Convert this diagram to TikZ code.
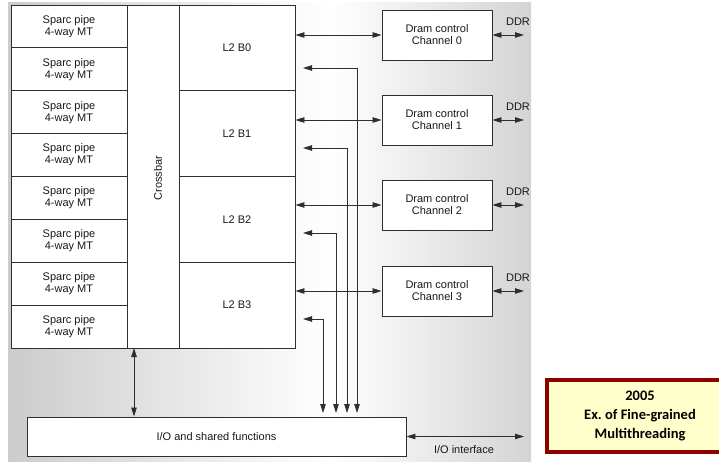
\documentclass[tikz,border=0pt]{standalone}
\usepackage{fontspec}
\setmainfont{Liberation Sans}
\newfontfamily\carl{Carlito}
\usetikzlibrary{arrows.meta,calc,shadows}
\definecolor{bgL}{gray}{0.80}
\definecolor{bgR}{gray}{0.83}
\definecolor{lnc}{gray}{0.18}
\definecolor{notefill}{RGB}{255,255,204}
\definecolor{noteedge}{RGB}{140,0,0}
\begin{document}
\begin{tikzpicture}[x=1pt,y=-1pt,
  blk/.style={draw=lnc, line width=0.9pt, fill=white, inner sep=0pt, align=center,
    font=\fontsize{11}{12}\selectfont, text=black!90},
  dbl/.style={draw=lnc, line width=0.8pt,
    {Triangle[length=9pt,width=5.5pt]}-{Triangle[length=9pt,width=5.5pt]}},
  lbl/.style={font=\fontsize{11}{12}\selectfont, text=black!90, inner sep=0pt}]
\useasboundingbox (0,0) rectangle (719,462);
% background
\shade[left color=bgL, right color=white] (8,3) rectangle (330,461);
\shade[left color=white, right color=bgR] (330,3) rectangle (531,461);
% sparc pipes
\foreach \i in {0,...,7}
  \node[blk, minimum width=116pt, minimum height=42.875pt] (sp\i)
    at (69, {5+42.875*(\i+0.5)}) {Sparc pipe\\4-way MT};
% crossbar
\node[blk, minimum width=52pt, minimum height=343pt] (xbar) at (153,176.5) {};
\node[lbl, rotate=90] (xlab) at (158,178) {Crossbar};
% L2 banks
\foreach \i in {0,...,3}
  \node[blk, minimum width=116pt, minimum height=85.75pt] (l2\i)
    at (237, {5+85.75*(\i+0.5)}) {L2 B\i};
% dram controllers
\foreach \i/\c in {0/35,1/120,2/205,3/291}{
  \node[blk, minimum width=110pt, minimum height=50pt] (dr\i) at (437,\c)
    {Dram control\\Channel \i};
  \draw[dbl] (l2\i.east |- dr\i.west) -- (dr\i.west);
  \coordinate (dd\i) at (524,\c);
  \draw[dbl] (dr\i.east) -- (dd\i);
  \node[lbl] (ddrl\i) at (518,\c-13) {DDR};
}
% I/O
\node[blk, minimum width=379pt, minimum height=39pt] (io) at (216.5,436.5)
  {I/O and shared functions};
\foreach \i/\ry/\vx in {0/68/357,1/148/347,2/233/336,3/319/323}{
  \coordinate (rt\i) at (303,\ry);
  \coordinate (rb\i) at (\vx,413);
  \draw[dbl] (rt\i) -| (rb\i);
}
\coordinate (xb) at (134,348);
\draw[dbl] (xb) -- (xb |- io.north);
\coordinate (iof) at (524,436.5);
\draw[dbl] (io.east) -- (iof);
\node[lbl] (iol) at (464,450) {I/O interface};
% note
\node[draw=noteedge, line width=3.5pt, fill=notefill, minimum width=186pt,
  minimum height=72pt, inner sep=0pt, align=center,
  font=\carl\bfseries\fontsize{14.5}{19}\selectfont,
  drop shadow={shadow xshift=1pt, shadow yshift=-1.5pt, opacity=0.25}]
  (note) at (640,416) {2005\\Ex.\ of Fine-grained\\Multithreading};
\end{tikzpicture}
\end{document}
